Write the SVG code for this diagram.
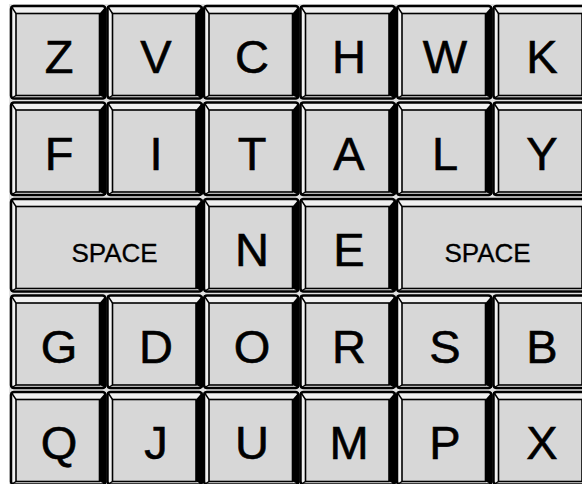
<svg xmlns="http://www.w3.org/2000/svg" width="582" height="484" viewBox="0 0 582 484">
<style>
.outer{fill:#f1f1f1;stroke:#000;stroke-width:2.5}
.shadow{fill:#000}
.face{fill:#d7d7d7;stroke:#000;stroke-width:1.6}
.bevel{fill:none;stroke:#000;stroke-width:1.4}
.lt{font-family:"Liberation Sans",Arial,sans-serif;font-size:47px;text-anchor:middle;fill:#000;stroke:#000;stroke-width:0.6}
.sp{font-family:"Liberation Sans",Arial,sans-serif;font-size:26px;text-anchor:middle;fill:#000;stroke:#000;stroke-width:0.3}
</style>
<defs>
<g id="k"><rect class="outer" x="2" y="2" width="94.5" height="92.5" rx="3"/><path class="shadow" d="M90.5 9.5 L97 2 L97 94.5 L90.5 91.5 Z"/><rect class="face" x="7" y="9.5" width="83.5" height="82"/><path class="bevel" d="M2 2 L7 9.5 M2 94.5 L7 91.5"/></g>
<g id="s"><rect class="outer" x="2" y="2" width="191" height="92.5" rx="3"/><path class="shadow" d="M187 9.5 L193.5 2 L193.5 94.5 L187 91.5 Z"/><rect class="face" x="7" y="9.5" width="180" height="82"/><path class="bevel" d="M2 2 L7 9.5 M2 94.5 L7 91.5"/></g>
</defs>
<rect x="9" y="4" width="573" height="480" fill="#e2e2e2"/>
<g id="connectors"></g>
<g id="key-Z"><use href="#k" x="9" y="4"/><text class="lt" x="59" y="73">Z</text></g>
<g id="key-V"><use href="#k" x="105.5" y="4"/><text class="lt" x="156" y="73">V</text></g>
<g id="key-C"><use href="#k" x="202" y="4"/><text class="lt" x="252" y="73">C</text></g>
<g id="key-H"><use href="#k" x="298.5" y="4"/><text class="lt" x="349" y="73">H</text></g>
<g id="key-W"><use href="#k" x="395" y="4"/><text class="lt" x="445" y="73">W</text></g>
<g id="key-K"><use href="#k" x="491.5" y="4"/><text class="lt" x="542" y="73">K</text></g>
<g id="key-F"><use href="#k" x="9" y="100.5"/><text class="lt" x="59" y="169.5">F</text></g>
<g id="key-I"><use href="#k" x="105.5" y="100.5"/><text class="lt" x="156" y="169.5">I</text></g>
<g id="key-T"><use href="#k" x="202" y="100.5"/><text class="lt" x="252" y="169.5">T</text></g>
<g id="key-A"><use href="#k" x="298.5" y="100.5"/><text class="lt" x="349" y="169.5">A</text></g>
<g id="key-L"><use href="#k" x="395" y="100.5"/><text class="lt" x="445" y="169.5">L</text></g>
<g id="key-Y"><use href="#k" x="491.5" y="100.5"/><text class="lt" x="542" y="169.5">Y</text></g>
<g id="key-space-left"><use href="#s" x="9" y="197"/><text class="sp" x="114.5" y="262">SPACE</text></g>
<g id="key-N"><use href="#k" x="202" y="197"/><text class="lt" x="252" y="266">N</text></g>
<g id="key-E"><use href="#k" x="298.5" y="197"/><text class="lt" x="349" y="266">E</text></g>
<g id="key-space-right"><use href="#s" x="395" y="197"/><text class="sp" x="487.5" y="262">SPACE</text></g>
<g id="key-G"><use href="#k" x="9" y="293.5"/><text class="lt" x="59" y="362.5">G</text></g>
<g id="key-D"><use href="#k" x="105.5" y="293.5"/><text class="lt" x="156" y="362.5">D</text></g>
<g id="key-O"><use href="#k" x="202" y="293.5"/><text class="lt" x="252" y="362.5">O</text></g>
<g id="key-R"><use href="#k" x="298.5" y="293.5"/><text class="lt" x="349" y="362.5">R</text></g>
<g id="key-S"><use href="#k" x="395" y="293.5"/><text class="lt" x="445" y="362.5">S</text></g>
<g id="key-B"><use href="#k" x="491.5" y="293.5"/><text class="lt" x="542" y="362.5">B</text></g>
<g id="key-Q"><use href="#k" x="9" y="390"/><text class="lt" x="59" y="459">Q</text></g>
<g id="key-J"><use href="#k" x="105.5" y="390"/><text class="lt" x="156" y="459">J</text></g>
<g id="key-U"><use href="#k" x="202" y="390"/><text class="lt" x="252" y="459">U</text></g>
<g id="key-M"><use href="#k" x="298.5" y="390"/><text class="lt" x="349" y="459">M</text></g>
<g id="key-P"><use href="#k" x="395" y="390"/><text class="lt" x="445" y="459">P</text></g>
<g id="key-X"><use href="#k" x="491.5" y="390"/><text class="lt" x="542" y="459">X</text></g>
</svg>
